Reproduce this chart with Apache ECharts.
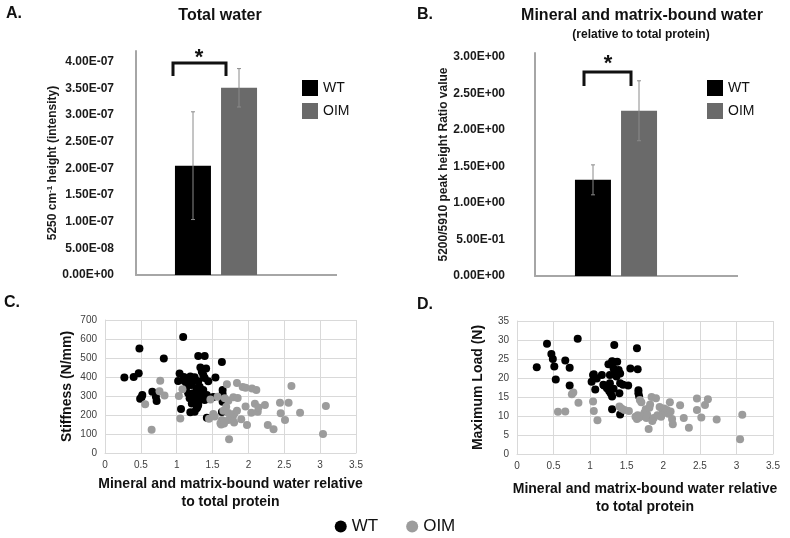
<!DOCTYPE html>
<html>
<head>
<meta charset="utf-8">
<script src="https://cdn.jsdelivr.net/npm/echarts@6/dist/echarts.min.js"></script>
<style>
  html, body { margin: 0; padding: 0; background: #fff; }
  #chart { width: 790px; height: 538px; }
</style>
</head>
<body>
<div id="chart"></div>
<script>
// bar panels (A, B): one group each, WT vs OIM
const groups = ['WT', 'OIM'];
const totalWaterMean = [2.05e-7, 3.51e-7];
const totalWaterErr = [1.01e-7, 0.36e-7];
const boundWaterMean = [1.315, 2.26];
const boundWaterErr = [0.205, 0.41];

// scatter panels (C, D): [bound water ratio, value]
const stiffnessWT = [
  [0.27, 398], [0.40, 400], [0.47, 420], [0.48, 550], [0.49, 285], [0.51, 293], [0.52, 305],
  [0.66, 323], [0.71, 296], [0.72, 274], [0.82, 498], [1.02, 379], [1.04, 418], [1.06, 232],
  [1.09, 610], [1.10, 400], [1.11, 377], [1.14, 349], [1.16, 314], [1.16, 358], [1.18, 288],
  [1.19, 402], [1.19, 214], [1.21, 384], [1.21, 358], [1.21, 261], [1.23, 377], [1.23, 314],
  [1.25, 399], [1.25, 282], [1.25, 217], [1.28, 340], [1.28, 270], [1.28, 235], [1.29, 305],
  [1.29, 243], [1.30, 510], [1.30, 377], [1.30, 252], [1.32, 349], [1.32, 279], [1.33, 450],
  [1.35, 428], [1.35, 314], [1.37, 410], [1.37, 331], [1.39, 510], [1.39, 395], [1.39, 279],
  [1.41, 445], [1.42, 305], [1.42, 185], [1.44, 377], [1.51, 295], [1.54, 398], [1.63, 479],
  [1.64, 331], [1.64, 310], [1.64, 270], [1.63, 216]
];
const stiffnessOIM = [
  [0.56, 256], [0.65, 122], [0.76, 325], [0.77, 380], [0.83, 302], [1.03, 300], [1.05, 182],
  [1.08, 335], [1.45, 180], [1.47, 282], [1.51, 205], [1.53, 192], [1.57, 296], [1.61, 156],
  [1.62, 150], [1.63, 174], [1.65, 222], [1.66, 155], [1.67, 288], [1.69, 244], [1.70, 362],
  [1.72, 275], [1.72, 210], [1.72, 174], [1.73, 72], [1.78, 185], [1.79, 294], [1.80, 205],
  [1.80, 160], [1.84, 368], [1.84, 222], [1.85, 289], [1.90, 178], [1.92, 348], [1.96, 343],
  [1.96, 245], [1.98, 148], [2.04, 212], [2.05, 340], [2.09, 259], [2.11, 331], [2.13, 217],
  [2.14, 240], [2.23, 252], [2.27, 147], [2.35, 125], [2.44, 265], [2.45, 209], [2.51, 174],
  [2.56, 265], [2.60, 352], [2.72, 212], [3.04, 100], [3.08, 247]
];
const maxLoadWT = [
  [0.27, 22.8], [0.41, 29.0], [0.47, 26.3], [0.49, 25.0], [0.51, 23.0], [0.53, 19.6], [0.66, 24.6],
  [0.72, 22.7], [0.72, 18.0], [0.83, 30.3], [1.02, 19.0], [1.04, 20.8], [1.05, 21.0], [1.07, 17.0],
  [1.09, 19.9], [1.16, 20.8], [1.18, 18.2], [1.19, 18.0], [1.23, 17.3], [1.23, 17.7], [1.25, 23.6],
  [1.26, 16.6], [1.27, 20.8], [1.27, 18.6], [1.28, 16.0], [1.30, 15.1], [1.30, 24.4], [1.30, 11.8],
  [1.31, 24.3], [1.32, 22.5], [1.32, 17.2], [1.33, 28.7], [1.34, 21.2], [1.36, 20.4], [1.37, 24.3],
  [1.39, 22.1], [1.40, 16.0], [1.41, 21.2], [1.41, 18.6], [1.41, 10.4], [1.45, 18.2], [1.52, 18.0],
  [1.55, 22.5], [1.64, 27.8], [1.65, 22.3], [1.66, 16.8], [1.66, 16.0], [1.67, 15.1]
];
const maxLoadOIM = [
  [0.56, 11.1], [0.66, 11.2], [0.75, 15.7], [0.77, 16.2], [0.84, 13.5], [1.04, 13.8], [1.05, 11.3],
  [1.10, 8.9], [1.40, 12.5], [1.43, 12.0], [1.47, 11.6], [1.53, 11.3], [1.62, 9.8], [1.64, 9.2],
  [1.65, 10.2], [1.67, 9.6], [1.68, 14.2], [1.70, 13.6], [1.72, 10.0], [1.74, 10.8], [1.76, 11.8],
  [1.77, 9.5], [1.78, 10.4], [1.80, 6.6], [1.81, 12.2], [1.82, 13.0], [1.84, 15.0], [1.85, 8.7],
  [1.87, 9.5], [1.90, 14.7], [1.92, 10.2], [1.95, 12.4], [1.97, 9.8], [1.99, 11.6], [2.01, 12.0],
  [2.03, 11.0], [2.05, 11.6], [2.07, 10.6], [2.09, 13.6], [2.10, 11.2], [2.12, 9.2], [2.13, 7.8],
  [2.23, 12.8], [2.28, 9.5], [2.35, 6.9], [2.46, 14.6], [2.46, 11.6], [2.52, 9.6], [2.57, 12.9],
  [2.61, 14.4], [2.73, 9.1], [3.05, 3.9], [3.08, 10.3]
];

const BLACK = '#000000';
const BAR_GREY = '#6a6a6a';
const DOT_GREY = '#9c9c9c';
const AXIS_GREY = '#a6a6a6';
const GRID_GREY = '#d9d9d9';
const narrow = '"Liberation Sans Narrow", "Liberation Sans", Arial, sans-serif';
const sans = '"Liberation Sans", Arial, sans-serif';

// 4.00E-07 style labels, like the spreadsheet
function sci(v, step) {
  if (Math.abs(v / step - Math.round(v / step)) > 1e-6) return '';
  if (Math.abs(v) < 1e-20) return '0.00E+00';
  const parts = v.toExponential(2).split('e');
  const n = parseInt(parts[1], 10);
  return parts[0] + 'E' + (n < 0 ? '-' : '+') + String(Math.abs(n)).padStart(2, '0');
}

const BAR_W = 36;
const BAR_SHIFT = 23; // half of bar width + gap

function errorSeries(gridIdx, means, errs) {
  return {
    type: 'custom',
    xAxisIndex: gridIdx,
    yAxisIndex: gridIdx,
    z: 5,
    data: means.map((m, i) => [0, m, errs[i]]),
    renderItem: (params, api) => {
      const m = api.value(1), e = api.value(2);
      const hi = api.coord([0, m + e]);
      const lo = api.coord([0, m - e]);
      const x = hi[0] + (params.dataIndex === 0 ? -BAR_SHIFT : BAR_SHIFT);
      const st = { stroke: '#8a8a8a', lineWidth: 1 };
      return {
        type: 'group',
        children: [
          { type: 'line', shape: { x1: x, y1: hi[1], x2: x, y2: lo[1] }, style: st },
          { type: 'line', shape: { x1: x - 2, y1: hi[1], x2: x + 2, y2: hi[1] }, style: st },
          { type: 'line', shape: { x1: x - 2, y1: lo[1], x2: x + 2, y2: lo[1] }, style: st }
        ]
      };
    }
  };
}

function barAxisY(gridIdx, max, step, margin, name, gap) {
  return {
    type: 'value', gridIndex: gridIdx, min: 0, max: max, interval: step,
    axisLine: { show: true, lineStyle: { color: AXIS_GREY, width: 2 } },
    axisTick: { show: false },
    splitLine: { show: false },
    axisLabel: {
      margin: margin, color: '#1a1a1a', fontWeight: 'bold', fontSize: 12, fontFamily: narrow,
      formatter: v => sci(v, step)
    },
    name: name, nameLocation: 'middle', nameGap: gap,
    nameTextStyle: {
      color: '#1a1a1a', fontWeight: 'bold', fontSize: 12, fontFamily: sans,
      rich: {
        a: { fontWeight: 'bold', fontSize: 12, fontFamily: sans, color: '#1a1a1a' },
        sup: { fontWeight: 'bold', fontSize: 8, fontFamily: sans, color: '#1a1a1a', verticalAlign: 'top', padding: [0, 0, 5, 0] }
      }
    }
  };
}

function barAxisX(gridIdx) {
  return {
    type: 'category', gridIndex: gridIdx, data: [''],
    axisLine: { show: true, lineStyle: { color: AXIS_GREY, width: 2 } },
    axisTick: { show: false },
    axisLabel: { show: false }
  };
}

function scatterX(gridIdx, gap) {
  return {
    type: 'value', gridIndex: gridIdx, min: 0, max: 3.5, interval: 0.5,
    axisLine: { show: true, lineStyle: { color: GRID_GREY } },
    axisTick: { show: false },
    splitLine: { show: true, lineStyle: { color: GRID_GREY } },
    axisLabel: { color: '#404040', fontSize: 10, fontFamily: narrow, margin: 7 },
    name: 'Mineral and matrix-bound water relative\nto total protein',
    nameLocation: 'middle', nameGap: gap,
    nameTextStyle: { color: '#111', fontWeight: 'bold', fontSize: 14, lineHeight: 18, fontFamily: sans }
  };
}

function scatterY(gridIdx, max, step, name, gap) {
  return {
    type: 'value', gridIndex: gridIdx, min: 0, max: max, interval: step,
    axisLine: { show: true, lineStyle: { color: GRID_GREY } },
    axisTick: { show: false },
    splitLine: { show: true, lineStyle: { color: GRID_GREY } },
    axisLabel: { color: '#404040', fontSize: 10, fontFamily: narrow, margin: 8 },
    name: name, nameLocation: 'middle', nameGap: gap,
    nameTextStyle: { color: '#111', fontWeight: 'bold', fontSize: 14, fontFamily: sans }
  };
}

function barSeries(gridIdx, means) {
  return groups.map((g, i) => ({
    name: g,
    type: 'bar',
    xAxisIndex: gridIdx,
    yAxisIndex: gridIdx,
    barWidth: BAR_W,
    barGap: '28%',
    itemStyle: { color: i === 0 ? BLACK : BAR_GREY },
    data: [means[i]]
  }));
}

function dots(gridIdx, name, data, color) {
  return {
    name: name, type: 'scatter', xAxisIndex: gridIdx, yAxisIndex: gridIdx,
    symbolSize: 8, itemStyle: { color: color, opacity: 1 }, data: data
  };
}

const chart = echarts.init(document.getElementById('chart'));

const label = (text, x, y, size) => ({
  type: 'text', x: x, y: y, z: 10,
  style: { text: text, fill: '#111', font: 'bold ' + size + 'px ' + sans, textAlign: 'center', textVerticalAlign: 'middle' }
});
const bracket = (pts) => ({
  type: 'polyline', z: 10, shape: { points: pts },
  style: { stroke: '#111', lineWidth: 3, fill: null }
});
const axisExt = (x1, x2, y) => ({
  type: 'line', z: 1, shape: { x1: x1, y1: y, x2: x2, y2: y },
  style: { stroke: AXIS_GREY, lineWidth: 2 }
});

chart.setOption({
  animation: false,
  backgroundColor: '#fff',
  grid: [
    { left: 136, top: 51, width: 160, bottom: 263 },
    { left: 535, top: 53, width: 162, bottom: 262 },
    { left: 105, top: 320, right: 434, bottom: 85 },
    { left: 517, top: 321, right: 17, bottom: 84 }
  ],
  xAxis: [
    barAxisX(0),
    barAxisX(1),
    scatterX(2, 22),
    scatterX(3, 26)
  ],
  yAxis: [
    barAxisY(0, 4.2e-7, 5e-8, 22, '{a|5250 cm}{sup|-1}{a| height (intensity)}', 72),
    barAxisY(1, 3.05, 0.5, 30, '5200/5910 peak height Ratio value', 68),
    scatterY(2, 700, 100, 'Stiffness (N/mm)', 31),
    scatterY(3, 35, 5, 'Maximum Load (N)', 32)
  ],
  legend: [
    {
      orient: 'vertical', left: 302, top: 80, padding: 0, itemWidth: 16, itemHeight: 16, itemGap: 7,
      icon: 'rect', textStyle: { fontSize: 14, color: '#111', fontFamily: sans },
      data: [{ name: 'WT', itemStyle: { color: BLACK } }, { name: 'OIM', itemStyle: { color: BAR_GREY } }]
    },
    {
      orient: 'vertical', left: 707, top: 80, padding: 0, itemWidth: 16, itemHeight: 16, itemGap: 7,
      icon: 'rect', textStyle: { fontSize: 14, color: '#111', fontFamily: sans },
      data: [{ name: 'WT', itemStyle: { color: BLACK } }, { name: 'OIM', itemStyle: { color: BAR_GREY } }]
    },
    {
      orient: 'horizontal', left: 'center', top: 513, itemWidth: 12, itemHeight: 12, itemGap: 28,
      icon: 'circle', textStyle: { fontSize: 17, color: '#111', fontFamily: narrow },
      data: [{ name: 'WT', itemStyle: { color: BLACK } }, { name: 'OIM', itemStyle: { color: DOT_GREY } }]
    }
  ],
  graphic: [
    label('A.', 14, 14, 16),
    label('B.', 425, 15, 16),
    label('C.', 12, 303, 16),
    label('D.', 425, 305, 16),
    label('Total water', 220, 16, 16),
    label('Mineral and matrix-bound water', 642, 16, 16),
    label('(relative to total protein)', 641, 35, 12),
    bracket([[173, 76], [173, 63], [226, 63], [226, 76]]),
    label('*', 199, 58, 22),
    bracket([[584, 86], [584, 72], [631, 72], [631, 86]]),
    label('*', 608, 64, 22),
    axisExt(296, 337, 275),
    axisExt(697, 738, 276)
  ],
  series: [
    ...barSeries(0, totalWaterMean),
    errorSeries(0, totalWaterMean, totalWaterErr),
    ...barSeries(1, boundWaterMean),
    errorSeries(1, boundWaterMean, boundWaterErr),
    dots(2, 'WT', stiffnessWT, BLACK),
    dots(2, 'OIM', stiffnessOIM, DOT_GREY),
    dots(3, 'WT', maxLoadWT, BLACK),
    dots(3, 'OIM', maxLoadOIM, DOT_GREY)
  ]
});
</script>
</body>
</html>
